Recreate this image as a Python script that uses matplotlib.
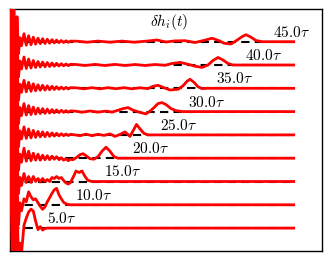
import matplotlib
matplotlib.use("Agg")
import matplotlib.pyplot as plt

plt.rcParams['mathtext.fontset'] = 'cm'

# times of the snapshots
TIMES = [5.0, 10.0, 15.0, 20.0, 25.0, 30.0, 35.0, 40.0, 45.0]

# shared sampling positions of the early (ringing) part
R_EARLY = [0, 1.5, 3, 4.5, 6, 7.5, 9, 10.5, 13, 15.3, 17.6, 20, 22.3, 24.6, 27, 29.3,
           31.6, 34, 36.3, 38.6, 41, 43.3, 45.6, 48, 50.3, 52.6, 55, 57.3, 59.6]

H05_EARLY = [45, -45, 40, -35, 20, -30, -15, -25, 3, 10, 16, 19, 17, 7, -1.5, 1.5,
             -2, -0.5, 0, 0, 0, 0, 0, 0, 0, 0, 0, 0, 0]
H10_EARLY = [45, -45, 40, -35, 25, -20, 2, -6, 6, 3, 13, 8, 5, 6, 2, -1.5,
             -4.5, -2, 3, 7, 11.5, 15, 16.5, 10, 6, 2.5, 1, 0.3, 0]
H15_EARLY = [45, -45, 40, -35, 25, -12, 4, -4, 8, -1, 5, -1, 5, 0, 3, -0.5,
             3, 0, 2, 0, 4, 3, 5, 3, 4, 1, -1.5, -2.5, -1]
H20_EARLY = [45, -45, 40, -35, 25, -12, 4, -4, 10, -3, 7, -2.5, 5, -2, 4, -2,
             3, -1.5, 2.5, -1.5, 2, -1, 1.5, -1.5, 0.5, -2, -0.5, -2.5, -1]
H25_EARLY = [45, -45, 40, -35, 25, -12, 4, -4, 8, -3.5, 6, -3, 4.5, -2.5, 3.5, -2,
             3, -1.8, 2.5, -1.5, 2, -1.2, 1.6, -1, 1.2, -0.8, 0.9, -0.6, 0.6]
H30_EARLY = [45, -45, 40, -35, 25, -12, 4, -4, 8, -3.5, 6, -3, 4.5, -2.5, 3.5, -2,
             3, -1.8, 2.5, -1.5, 2, -1.2, 1.7, -1, 1.3, -0.8, 1.0, -0.6, 0.7]
H35_EARLY = [45, -45, 40, -35, 25, -12, 4, -4, 8, -3.5, 6, -3, 4.5, -2.5, 3.5, -2,
             3, -1.8, 2.5, -1.5, 2, -1.2, 1.6, -1, 1.2, -0.8, 0.9, -0.6, 0.6]
H40_EARLY = [45, -45, 40, -35, 25, -12, 4, -4, 8, -3.5, 6, -3, 4.5, -2.5, 3.5, -2,
             3, -1.8, 2.5, -1.5, 2, -1.2, 1.7, -1, 1.3, -0.8, 1.0, -0.6, 0.7]
H45_EARLY = [45, -45, 40, -35, 25, -12, 4, -4, 8, -3.5, 6, -3, 4.5, -2.5, 3.5, -2,
             3, -1.8, 2.5, -1.5, 2, -1.2, 1.6, -1, 1.2, -0.8, 0.9, -0.6, 0.6]

# later part of each profile (front region and flat tail)
R05_LATE = [282.7]
H05_LATE = [0]
R10_LATE = [282.7]
H10_LATE = [0]
R15_LATE = [61, 63, 65, 68, 71, 74, 77, 81, 282.7]
H15_LATE = [2, 6, 10.5, 9, 10.5, 5, 1, 0, 0]
R20_LATE = [62, 66, 69, 72, 75, 79, 83, 87, 91, 95, 99, 103, 107, 282.7]
H20_LATE = [-1.5, 1, 3.5, 4.5, 2.5, -0.5, -1, 1.5, 7, 11, 7, 1.5, 0, 0]
R25_LATE = [62, 69, 75, 81, 87, 93, 99, 104, 109, 114, 119, 122, 125.5, 129, 133, 137, 282.7]
H25_LATE = [0.3, -0.8, 0.8, -0.8, 0.6, -0.5, 1, -1.5, 0.5, 3, -1.5, 4, 10.5, 6, 1.5, 0, 0]
R30_LATE = [64, 71, 79, 87, 95, 101, 106, 112, 117, 122, 128, 135, 139, 143, 147, 151,
            155, 160, 165, 171, 282.7]
H30_LATE = [0.5, -0.6, 0.6, -0.5, 0.5, -0.5, 1, 3, 4, 1.5, -0.5, -2.3, 0.5, 4, 8, 9,
            7, 3, 1, 0, 0]
R35_LATE = [65, 73, 81, 89, 97, 105, 113, 121, 129, 137, 142, 147, 152, 159, 167, 172,
            176, 179, 183, 187, 191, 196, 282.7]
H35_LATE = [0.5, -0.5, 0.6, -0.5, 0.6, -0.4, 0.6, -0.5, 0.5, -0.3, 2, 3, 1, -1.7, -1, 2.5,
            7, 9, 6, 1.5, -0.3, 0, 0]
R40_LATE = [65, 74, 84, 94, 104, 114, 124, 134, 144, 154, 161, 169, 176, 184, 191, 197,
            202, 207, 212, 217, 222, 282.7]
H40_LATE = [0.5, -0.5, 0.6, -0.5, 0.6, -0.5, 0.5, -0.5, 0.5, -0.3, 1.5, 2.6, 1, -1.2, -2.4, 0,
            4.5, 7.5, 5, 1.5, 0, 0]
R45_LATE = [66, 76, 87, 99, 111, 123, 135, 146, 155, 164, 174, 184, 194, 201, 208, 213,
            220, 226, 231, 235, 240, 245, 251, 282.7]
H45_LATE = [0.5, -0.5, 0.6, -0.5, 0.6, -0.5, 0.5, 1.7, -0.3, 0.8, 1, -0.8, 1.5, 3.5, 1, -1.5,
            -2.3, 1.5, 5, 7, 4.5, 1.2, 0, 0]

EARLY = [H05_EARLY, H10_EARLY, H15_EARLY, H20_EARLY, H25_EARLY,
         H30_EARLY, H35_EARLY, H40_EARLY, H45_EARLY]
LATE_R = [R05_LATE, R10_LATE, R15_LATE, R20_LATE, R25_LATE,
          R30_LATE, R35_LATE, R40_LATE, R45_LATE]
LATE_H = [H05_LATE, H10_LATE, H15_LATE, H20_LATE, H25_LATE,
          H30_LATE, H35_LATE, H40_LATE, H45_LATE]

SPACING = 23.3
R_END = 282.7

fig = plt.figure(figsize=(3.32, 2.61), dpi=100)
ax = fig.add_axes([10 / 332, 10 / 261, 312 / 332, 242 / 261])

for k, t in enumerate(TIMES):
    off = k * SPACING
    r = R_EARLY + LATE_R[k]
    h = [v + off for v in EARLY[k] + LATE_H[k]]
    ax.plot([0, R_END], [off, off], color='black', lw=1.5,
            linestyle=(0, (4, 2.5)), zorder=2)
    ax.plot(r, h, color='#ff0000', lw=2.0, zorder=3, solid_joinstyle='round')
    ax.text(36 + 28.25 * k, off + 9.5, r'$%.1f\tau$' % t, fontsize=11,
            va='center', ha='left', zorder=4)

ax.text(0.511, 0.946, r'$\delta h_i(t)$', transform=ax.transAxes, fontsize=11,
        ha='center', va='center')

ax.set_xlim(-1, 311)
ax.set_ylim(-22.9, 219.1)
ax.set_xticks([])
ax.set_yticks([])
for s in ax.spines.values():
    s.set_linewidth(1.0)
    s.set_color('black')

fig.savefig('out.png', dpi=100)
